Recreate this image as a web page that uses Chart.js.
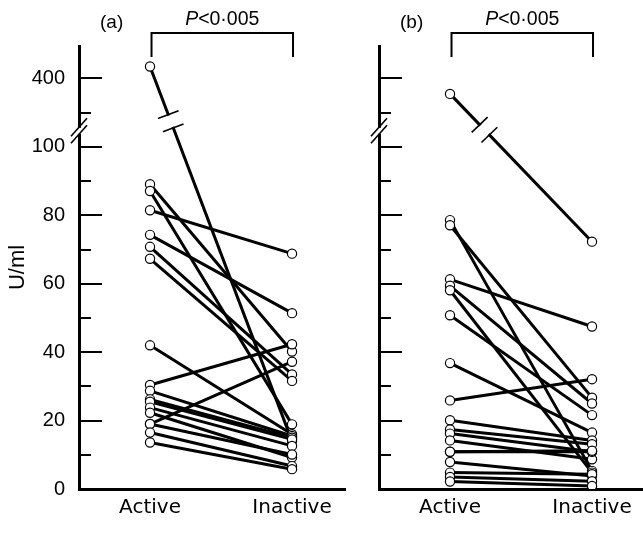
<!DOCTYPE html>
<html lang="en">
<head>
<meta charset="UTF-8">
<title>U/ml active vs inactive</title>
<script src="https://cdn.jsdelivr.net/npm/chart.js"></script>
<style>
  body { margin: 0; background: #fff; }
  canvas { position: absolute; left: 0; top: 0; }
</style>
</head>
<body>
<canvas id="chartA" width="643" height="538"></canvas>
<canvas id="chartB" width="643" height="538"></canvas>
<script>
// paired values, same index = same patient
const groups = ['Active', 'Inactive'];

const activeA   = [435, 89.1, 87.1, 81.5, 74.3, 70.8, 67.3, 42.0, 30.4, 28.7, 26.2, 25.5, 23.8, 22.3, 19.0, 19.0, 16.5, 13.6];
const inactiveA = [14.0, 40.2, 18.9, 68.8, 51.4, 33.5, 31.6, 16.0, 42.3, 15.5, 15.0, 14.5, 12.6, 9.2, 37.2, 10.1, 6.7, 5.8];

const activeB   = [355, 78.6, 77.1, 61.3, 59.4, 58.1, 50.8, 36.8, 25.9, 20.1, 17.4, 16.2, 14.2, 10.9, 10.9, 7.9, 4.8, 3.5, 2.2];
const inactiveB = [72.3, 5.3, 26.7, 47.5, 25.0, 4.8, 21.6, 16.5, 32.1, 14.2, 13.1, 10.9, 8.7, 10.9, 11.2, 3.8, 4.3, 2.3, 0.9];

// axis positions (above 100 the axis is broken, 400 sits at position 120)
const yTicks = [0, 10, 20, 30, 40, 50, 60, 70, 80, 90, 100, 110, 120];
const yTickLabels = ['0', '', '20', '', '40', '', '60', '', '80', '', '100', '', '400'];
const pText = 'P<0·005';

function toAxis(v) {
  return v <= 100 ? v : 120 + (v - 400) / 10;
}

function buildDatasets(act, inact) {
  const sets = act.map((a, i) => ({
    data: [{x: 0, y: toAxis(a)}, {x: 1, y: toAxis(inact[i])}],
    showLine: true,
    borderColor: '#000',
    borderWidth: 3,
    pointRadius: 0,
    order: 1
  }));
  const pts = [];
  act.forEach((a, i) => {
    pts.push({x: 0, y: toAxis(a)});
    pts.push({x: 1, y: toAxis(inact[i])});
  });
  sets.push({
    data: pts,
    showLine: false,
    pointRadius: 4.6,
    pointBackgroundColor: '#fff',
    pointBorderColor: '#000',
    pointBorderWidth: 1.2,
    order: 0
  });
  return sets;
}

const panelDecor = {
  id: 'panelDecor',
  afterDraw(chart, args, opts) {
    const ctx = chart.ctx;
    const xs = chart.scales.x, ys = chart.scales.y;
    const left = chart.chartArea.left;
    ctx.save();
    ctx.strokeStyle = '#000';
    ctx.fillStyle = '#000';

    // ticks pointing inwards
    ctx.lineWidth = 2;
    yTicks.forEach(v => {
      if (v === 0) return;
      const py = Math.round(ys.getPixelForValue(v));
      const len = v % 20 === 0 ? 23 : 12;
      ctx.beginPath();
      ctx.moveTo(left, py);
      ctx.lineTo(left + len, py);
      ctx.stroke();
    });

    // axis break
    const yc = ys.getPixelForValue(104.7);
    ctx.fillStyle = '#fff';
    ctx.fillRect(left - 3, yc - 3, 6, 6);
    ctx.lineWidth = 1.6;
    [-3.5, 3.5].forEach(off => {
      ctx.beginPath();
      ctx.moveTo(left - 8, yc + 9 + off);
      ctx.lineTo(left + 8, yc - 9 + off);
      ctx.stroke();
    });

    // break on the line going above 100
    opts.active.forEach((a, i) => {
      if (a <= 100) return;
      const p0 = {x: xs.getPixelForValue(0), y: ys.getPixelForValue(toAxis(a))};
      const p1 = {x: xs.getPixelForValue(1), y: ys.getPixelForValue(toAxis(opts.inactive[i]))};
      const by = ys.getPixelForValue(opts.breakPos);
      const t = (by - p0.y) / (p1.y - p0.y);
      const c = {x: p0.x + t * (p1.x - p0.x), y: by};
      const L = Math.hypot(p1.x - p0.x, p1.y - p0.y);
      const u = {x: (p1.x - p0.x) / L, y: (p1.y - p0.y) / L};
      const n = {x: -u.y, y: u.x};
      ctx.strokeStyle = '#fff';
      ctx.lineWidth = 6;
      ctx.beginPath();
      ctx.moveTo(c.x - 6 * u.x, c.y - 6 * u.y);
      ctx.lineTo(c.x + 6 * u.x, c.y + 6 * u.y);
      ctx.stroke();
      ctx.strokeStyle = '#000';
      ctx.lineWidth = 1.6;
      [-7, 7].forEach(s => {
        const m = {x: c.x + s * u.x, y: c.y + s * u.y};
        ctx.beginPath();
        ctx.moveTo(m.x - 11 * n.x, m.y - 11 * n.y);
        ctx.lineTo(m.x + 11 * n.x, m.y + 11 * n.y);
        ctx.stroke();
      });
    });

    // bracket and p value
    const bx0 = xs.getPixelForValue(0) + 1.5, bx1 = xs.getPixelForValue(1) + 1;
    ctx.strokeStyle = '#000';
    ctx.lineWidth = 2;
    ctx.beginPath();
    ctx.moveTo(bx0, 57);
    ctx.lineTo(bx0, 33);
    ctx.lineTo(bx1, 33);
    ctx.lineTo(bx1, 57);
    ctx.stroke();

    ctx.fillStyle = '#000';
    ctx.textBaseline = 'alphabetic';
    ctx.textAlign = 'left';
    const fItal = 'italic 19.5px "Liberation Sans", Arial, sans-serif';
    const fNorm = '19.5px "Liberation Sans", Arial, sans-serif';
    ctx.font = fItal;
    const wP = ctx.measureText('P').width;
    ctx.font = fNorm;
    const wRest = ctx.measureText(pText.slice(1)).width;
    const start = (bx0 + bx1) / 2 - (wP + wRest) / 2;
    ctx.font = fItal;
    ctx.fillText('P', start, 25);
    ctx.font = fNorm;
    ctx.fillText(pText.slice(1), start + wP, 25);

    ctx.font = '19px "Liberation Sans", Arial, sans-serif';
    ctx.fillText(opts.label, opts.labelX, 28);
    ctx.restore();
  }
};

function makeChart(id, act, inact, panel) {
  const isA = panel.label === '(a)';
  return new Chart(document.getElementById(id), {
    type: 'scatter',
    data: { datasets: buildDatasets(act, inact) },
    options: {
      responsive: false,
      animation: false,
      layout: {
        autoPadding: false,
        padding: { left: 0, right: panel.padRight, top: 46, bottom: 0 }
      },
      plugins: {
        legend: { display: false },
        tooltip: { enabled: false },
        panelDecor: { active: act, inactive: inact, breakPos: panel.breakPos, label: panel.label, labelX: panel.labelX }
      },
      scales: {
        x: {
          type: 'linear',
          min: -0.5,
          max: panel.xMax,
          grid: { display: false, drawTicks: false },
          border: { display: true, color: '#000', width: 3 },
          afterBuildTicks: s => { s.ticks = [{value: 0}, {value: 1}]; },
          afterFit: s => { s.height = 49; },
          ticks: {
            color: '#000',
            padding: 7,
            maxRotation: 0,
            font: { family: '"DejaVu Sans", sans-serif', size: 20 },
            callback: v => groups[v]
          }
        },
        y: {
          type: 'linear',
          min: 0,
          max: 129.5,
          grid: { display: false, drawTicks: false },
          border: { display: true, color: '#000', width: 3 },
          afterBuildTicks: s => { s.ticks = yTicks.map(v => ({value: v})); },
          afterFit: s => { s.width = panel.axisLeft; },
          title: {
            display: isA,
            text: 'U/ml',
            color: '#000',
            padding: { top: 5, bottom: 0 },
            font: { family: '"Liberation Sans", Arial, sans-serif', size: 22 }
          },
          ticks: {
            display: isA,
            color: '#000',
            padding: 14,
            font: { family: '"Liberation Sans", Arial, sans-serif', size: 20 },
            callback: (v, i) => yTickLabels[i]
          }
        }
      }
    },
    plugins: [panelDecor]
  });
}

makeChart('chartA', activeA, inactiveA, { label: '(a)', labelX: 100, padRight: 298, axisLeft: 79, xMax: 1.373, breakPos: 107.5 });
makeChart('chartB', activeB, inactiveB, { label: '(b)', labelX: 400, padRight: 0, axisLeft: 379, xMax: 1.359, breakPos: 105 });
</script>
</body>
</html>
